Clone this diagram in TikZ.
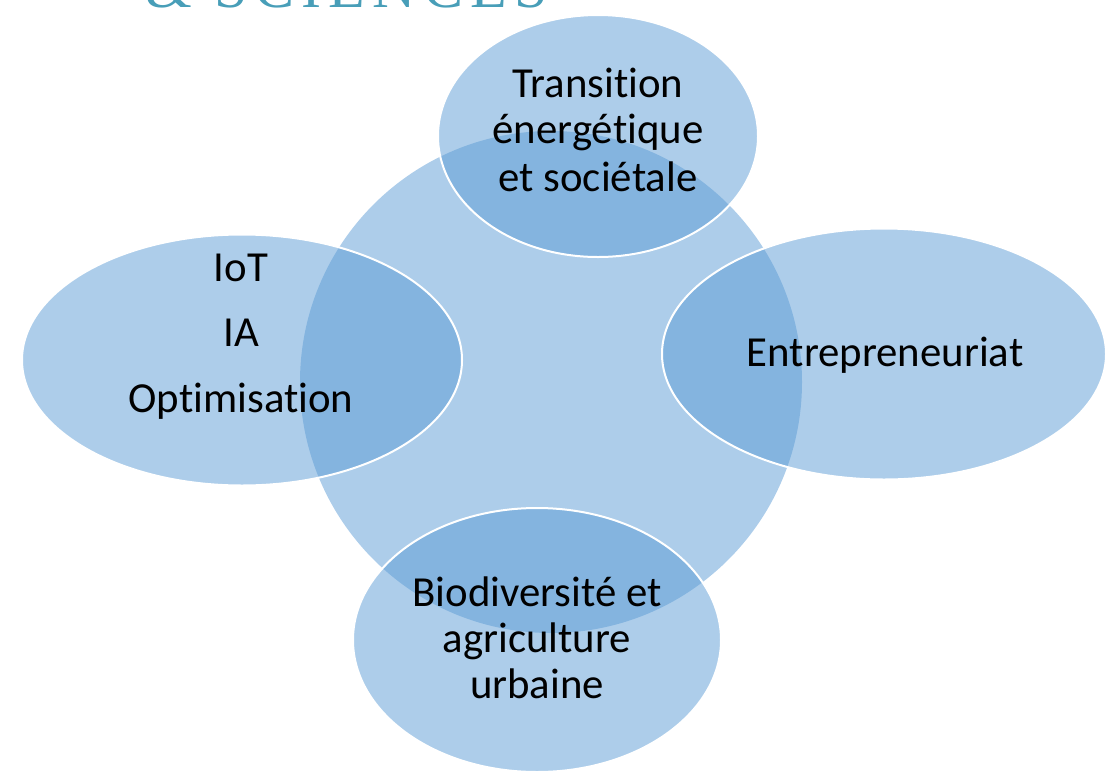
\documentclass[tikz,border=0pt]{standalone}
\usepackage{fontspec}
\setmainfont{Carlito}[Ligatures=NoCommon]
\newfontfamily\logofont[LetterSpace=12]{Liberation Serif}
\usetikzlibrary{shapes.geometric}
\definecolor{bubbleblue}{RGB}{91,155,213}
\definecolor{logoteal}{RGB}{72,158,184}
\tikzset{
    hub/.style={
        circle, inner sep=0pt,
        fill=bubbleblue, fill opacity=0.5
    },
    bubble/.style={
        ellipse, inner sep=0pt,
        fill=bubbleblue, fill opacity=0.5,
        draw=white, line width=2pt
    },
    lbl/.style={
        anchor=base, inner sep=0pt,
        font=\fontsize{42.8}{50}\selectfont
    }
}

\begin{document}
\begin{tikzpicture}[x=1pt,y=-1pt]
    \useasboundingbox (0,0) rectangle (1114,772);
    % logo remains at the top edge
    \begin{scope}
        \clip (0,0) rectangle (1114,772);
        \node[anchor=base west, inner sep=0pt, text=logoteal,
              font=\logofont\fontsize{60}{60}\selectfont] (logo) at (145,7) {\& SCIENCES};
    \end{scope}
    % centre circle and the four bubbles
    \node[hub, minimum size=502pt] (core) at (551,382) {};
    \node[bubble, minimum width=320pt, minimum height=242pt] (trans) at (598,136) {};
    \node[bubble, minimum width=440pt, minimum height=251pt] (iot) at (242,360) {};
    \node[bubble, minimum width=444pt, minimum height=251pt] (entre) at (884,354) {};
    \node[bubble, minimum width=368pt, minimum height=264pt] (bio) at (537,640) {};
    % labels
    \foreach \y/\t [count=\i] in {97/Transition, 143/énergétique, 191/et sociétale}
        \node[lbl] (trans-\i) at (598,\y) {\t};
    \foreach \y/\t [count=\i] in {281/IoT, 346/IA, 412/Optimisation}
        \node[lbl] (iot-\i) at (241,\y) {\t};
    \node[lbl] (entre-1) at (885,366) {Entrepreneuriat};
    \foreach \y/\t [count=\i] in {606/Biodiversité et, 652/agriculture, 698/urbaine}
        \node[lbl] (bio-\i) at (537,\y) {\t};
\end{tikzpicture}
\end{document}
